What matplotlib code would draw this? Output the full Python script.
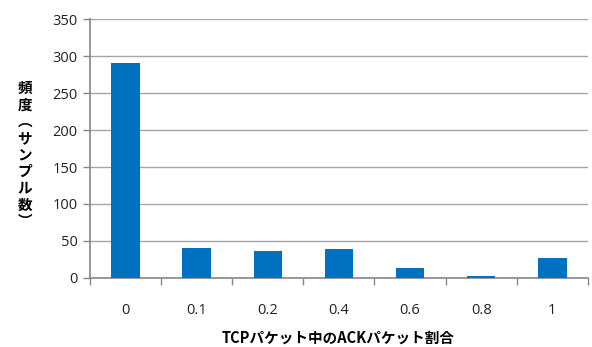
import matplotlib.pyplot as plt
import numpy as np

# Data
categories = ["0", "0.1", "0.2", "0.4", "0.6", "0.8", "1"]
counts = [290, 41, 36, 39, 13, 2, 27]

plt.rcParams['font.family'] = ['Noto Sans CJK JP', 'DejaVu Sans']

fig = plt.figure(figsize=(5.92, 3.47), dpi=100)
ax = fig.add_axes([0.152, 0.199, 0.841, 0.746])

x = np.arange(len(categories))
ax.bar(x, counts, width=0.4, color='#0070C0', zorder=3)

ax.set_xlim(-0.5, len(categories) - 0.5)
ax.set_ylim(0, 350)
ax.set_yticks(np.arange(0, 351, 50))
ax.set_xticks(x)
ax.set_xticklabels(categories)
ax.set_xticks(np.arange(-0.5, len(categories), 1), minor=True)

ax.grid(axis='y', color='#a6a6a6', linewidth=1.0, zorder=0)
for s in ['top', 'right']:
    ax.spines[s].set_visible(False)
ax.spines['left'].set_color('#868686')
ax.spines['bottom'].set_color('#868686')
ax.spines['left'].set_linewidth(1.2)
ax.spines['bottom'].set_linewidth(1.2)

ax.tick_params(axis='x', which='major', length=0, pad=18, labelsize=10.5, labelcolor='#222222')
ax.tick_params(axis='x', which='minor', length=5, color='#868686', width=1)
ax.tick_params(axis='y', length=5, color='#868686', width=1, labelsize=10.5, pad=4, labelcolor='#222222')
for lbl in ax.get_xticklabels() + ax.get_yticklabels():
    lbl.set_family(['Open Sans', 'DejaVu Sans'])

# axis titles placed in figure coordinates
fig.text(0.572, 0.028, "TCPパケット中のACKパケット割合", fontsize=10.5,
         fontweight='bold', ha='center', va='center')
fig.text(0.042, 0.555, "頻\n度\n︵\nサ\nン\nプ\nル\n数\n︶", fontsize=10.5,
         fontweight='bold', ha='center', va='center', linespacing=1.05)

plt.savefig("out.png", dpi=100)
